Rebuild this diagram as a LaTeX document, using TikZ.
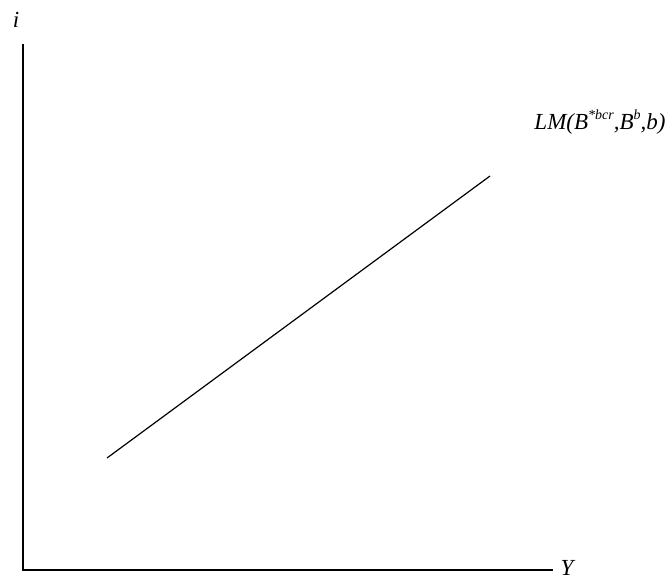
\documentclass[tikz,border=0pt]{standalone}
\usepackage{fontspec}
\setmainfont{Liberation Serif}
\newcommand{\mysup}[1]{\raisebox{0.45em}{\fontsize{14}{16}\selectfont #1}}
\begin{document}
\begin{tikzpicture}[x=1pt,y=-1pt,
  axis/.style={line width=1.6pt},
  curve/.style={line width=1.2pt},
  lbl/.style={font=\fontsize{23}{27}\selectfont\itshape, inner sep=0pt}]
\useasboundingbox (0,0) rectangle (669,579);
\coordinate (top) at (23,44);
\coordinate (origin) at (23,570);
\coordinate (right) at (553,570);
\draw[axis] (top) -- (origin) -- (right);
\coordinate (p1) at (107,458);
\coordinate (p2) at (490,176);
\draw[curve] (p1) -- (p2);
\node[lbl] (ilab) at (16,20) {i};
\node[lbl] (ylab) at (567,568) {Y};
\node[lbl] (lm) at (600,122) {LM(B\mysup{*bcr},B\mysup{b},b)};
\end{tikzpicture}
\end{document}
